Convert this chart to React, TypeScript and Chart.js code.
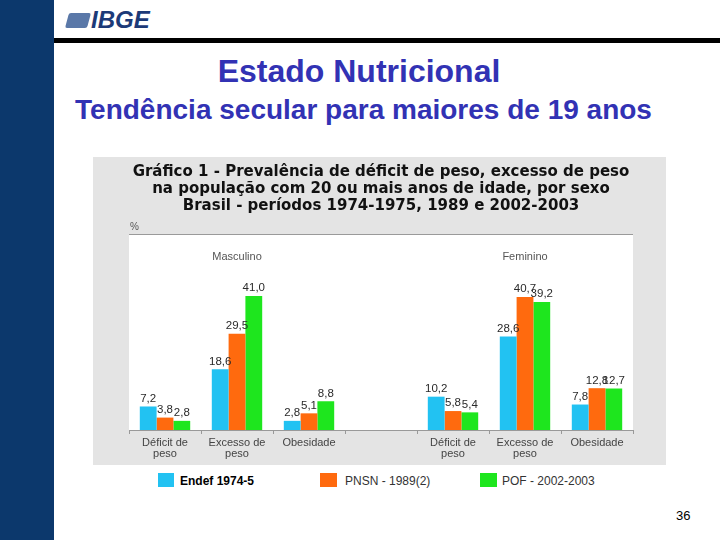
import React, { useEffect, useRef } from "react";
import { Chart, registerables } from "chart.js";

Chart.register(...registerables);

const categories: string[][] = [
  ["Déficit de", "peso"],
  ["Excesso de", "peso"],
  ["Obesidade"],
  [""],
  ["Déficit de", "peso"],
  ["Excesso de", "peso"],
  ["Obesidade"],
];
const seriesNames = ["Endef 1974-5", "PNSN - 1989(2)", "POF - 2002-2003"];
const endef: (number | null)[] = [7.2, 18.6, 2.8, null, 10.2, 28.6, 7.8];
const pnsn: (number | null)[] = [3.8, 29.5, 5.1, null, 5.8, 40.7, 12.8];
const pof: (number | null)[] = [2.8, 41.0, 8.8, null, 5.4, 39.2, 12.7];
const sexLabels = ["Masculino", "Feminino"];
const chartTitle = [
  "Gráfico 1 - Prevalência de déficit de peso, excesso de peso",
  "na população com 20 ou mais anos de idade, por sexo",
  "Brasil - períodos 1974-1975, 1989 e 2002-2003",
];
const colors = ["#22c2f2", "#ff6a0e", "#1ee61e"];

const FONT = "Arial, 'Liberation Sans', sans-serif";

const decoPlugin = {
  id: "deco",
  beforeDraw(chart: any) {
    const { ctx, chartArea: a, width, height } = chart;
    ctx.save();
    ctx.fillStyle = "#e4e4e4";
    ctx.fillRect(0, 0, width, height);
    ctx.fillStyle = "#ffffff";
    ctx.fillRect(a.left, a.top, a.right - a.left, a.bottom - a.top);
    ctx.strokeStyle = "#9a9a9a";
    ctx.lineWidth = 1;
    ctx.beginPath();
    ctx.moveTo(a.left, a.top + 0.5);
    ctx.lineTo(a.right, a.top + 0.5);
    ctx.stroke();
    ctx.restore();
  },
  afterDatasetsDraw(chart: any) {
    const { ctx, chartArea: a } = chart;
    const x = chart.scales.x;
    ctx.save();
    ctx.fillStyle = "#2a2a2a";
    ctx.font = `11.5px ${FONT}`;
    ctx.textAlign = "center";
    ctx.textBaseline = "bottom";
    chart.data.datasets.forEach((ds: any, di: number) => {
      const meta = chart.getDatasetMeta(di);
      meta.data.forEach((bar: any, i: number) => {
        const v = ds.data[i];
        if (v == null) return;
        ctx.fillText(v.toFixed(1).replace(".", ","), bar.x, bar.y - 2);
      });
    });
    ctx.fillStyle = "#555";
    ctx.font = `11px ${FONT}`;
    ctx.textBaseline = "middle";
    ctx.fillText(sexLabels[0], (x.getPixelForValue(0) + x.getPixelForValue(2)) / 2, a.top + 23);
    ctx.fillText(sexLabels[1], (x.getPixelForValue(4) + x.getPixelForValue(6)) / 2, a.top + 23);
    ctx.textAlign = "left";
    ctx.font = `10px ${FONT}`;
    ctx.fillText("%", a.left + 1, a.top - 7);
    ctx.restore();
  },
};

function ChartPanel() {
  const ref = useRef<HTMLCanvasElement | null>(null);
  useEffect(() => {
    if (!ref.current) return;
    const chart = new Chart(ref.current, {
      type: "bar",
      data: {
        labels: categories,
        datasets: [endef, pnsn, pof].map((d, i) => ({
          label: seriesNames[i],
          data: d,
          backgroundColor: colors[i],
          borderWidth: 0,
          categoryPercentage: 0.7,
          barPercentage: 1.0,
        })),
      },
      options: {
        animation: false,
        responsive: false,
        maintainAspectRatio: false,
        layout: { padding: { left: 36, right: 33, top: 0, bottom: 0 } },
        plugins: {
          legend: { display: false },
          tooltip: { enabled: false },
          title: {
            display: true,
            text: chartTitle,
            color: "#111",
            font: { family: "'DejaVu Sans', Arial, sans-serif", size: 15, weight: "bold", lineHeight: 17 / 15 },
            padding: { top: 6.5, bottom: 19.5 },
          },
        },
        scales: {
          x: {
            grid: {
              display: true,
              drawOnChartArea: false,
              drawTicks: true,
              tickLength: 4,
              color: "#999",
              offset: true,
            },
            border: { color: "#999" },
            ticks: {
              color: "#444",
              font: { family: FONT, size: 11, lineHeight: 1.05 },
              padding: 3,
              maxRotation: 0,
              autoSkip: false,
            },
            afterFit: (s: any) => {
              s.height = 35;
            },
          },
          y: { display: false, min: 0, max: 60 },
        },
      },
      plugins: [decoPlugin],
    });
    return () => chart.destroy();
  }, []);
  return (
    <canvas
      ref={ref}
      width={573}
      height={308}
      style={{ position: "absolute", left: 93, top: 157, width: 573, height: 308 }}
    />
  );
}

export default function App() {
  const legendPos = [
    { sq: 158, tx: 180, bold: true, w: 16 },
    { sq: 320, tx: 345, bold: false, w: 17 },
    { sq: 480, tx: 502, bold: false, w: 17 },
  ];
  return (
    <div
      style={{
        position: "fixed",
        left: 0,
        top: 0,
        width: 720,
        height: 540,
        background: "#fff",
        overflow: "hidden",
        fontFamily: FONT,
      }}
    >
      <div style={{ position: "absolute", left: 0, top: 0, width: 54, height: 540, background: "#0c386c" }} />
      <div style={{ position: "absolute", left: 54, top: 38, width: 666, height: 5, background: "#000" }} />
      <div
        style={{
          position: "absolute",
          left: 67,
          top: 13,
          width: 22,
          height: 15,
          background: "#5a78a8",
          transform: "skewX(-15deg)",
          borderRadius: 2,
        }}
      />
      <div
        style={{
          position: "absolute",
          left: 91,
          top: 6,
          fontSize: 24,
          fontWeight: "bold",
          fontStyle: "italic",
          color: "#1c3a78",
          lineHeight: "28px",
        }}
      >
        IBGE
      </div>
      <div
        style={{
          position: "absolute",
          left: 0,
          width: 718,
          top: 53,
          textAlign: "center",
          fontSize: 32,
          fontWeight: "bold",
          color: "#3232b4",
          lineHeight: "36px",
        }}
      >
        Estado Nutricional
      </div>
      <div
        style={{
          position: "absolute",
          left: 0,
          width: 727,
          top: 95,
          textAlign: "center",
          fontSize: 28,
          fontWeight: "bold",
          color: "#3232b4",
          lineHeight: "30px",
          whiteSpace: "nowrap",
        }}
      >
        Tendência secular para maiores de 19 anos
      </div>
      <ChartPanel />
      {legendPos.map((p, i) => (
        <React.Fragment key={i}>
          <div
            style={{
              position: "absolute",
              left: p.sq,
              top: 473,
              width: p.w,
              height: 14,
              background: colors[i],
            }}
          />
          <div
            style={{
              position: "absolute",
              left: p.tx,
              top: 473,
              fontSize: 12,
              lineHeight: "16px",
              fontWeight: p.bold ? "bold" : "normal",
              color: p.bold ? "#000" : "#333",
            }}
          >
            {seriesNames[i]}
          </div>
        </React.Fragment>
      ))}
      <div style={{ position: "absolute", left: 676, top: 508, fontSize: 13, color: "#000" }}>36</div>
    </div>
  );
}
